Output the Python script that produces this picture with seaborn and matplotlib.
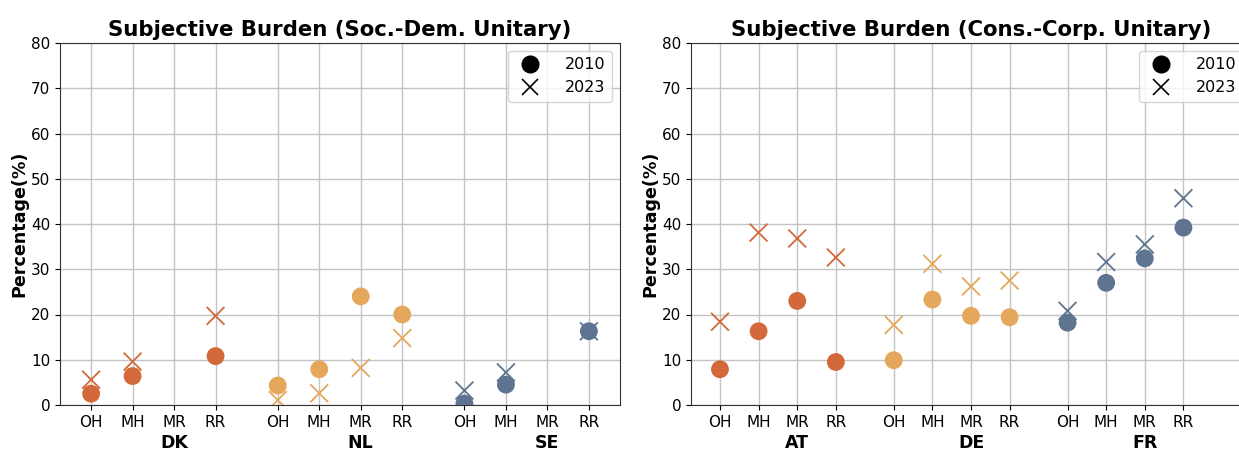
import numpy as np
import pandas as pd
import matplotlib
matplotlib.use("Agg")
import matplotlib.pyplot as plt
from matplotlib.lines import Line2D
import seaborn as sns

categories = ["OH", "MH", "MR", "RR"]

left_title = "Subjective Burden (Soc.-Dem. Unitary)"
left_countries = ["DK", "NL", "SE"]
left_2010 = [[2.5, 6.4, np.nan, 10.8],
             [4.3, 7.9, 24.0, 20.0],
             [0.3, 4.5, np.nan, 16.3]]
left_2023 = [[5.6, 9.6, np.nan, 19.7],
             [1.1, 2.6, 8.2, 14.8],
             [3.2, 7.2, np.nan, 16.3]]

right_title = "Subjective Burden (Cons.-Corp. Unitary)"
right_countries = ["AT", "DE", "FR"]
right_2010 = [[7.9, 16.3, 23.0, 9.5],
              [9.9, 23.3, 19.7, 19.4],
              [18.2, 27.0, 32.4, 39.2]]
right_2023 = [[18.4, 38.1, 36.8, 32.6],
              [17.7, 31.2, 26.2, 27.5],
              [20.8, 31.6, 35.5, 45.7]]

group_colors = ["#D3693A", "#E5A75B", "#5E7490"]
years = ["2010", "2023"]

sns.set_style("ticks")
plt.rcParams["font.family"] = ["DejaVu Sans"]
plt.rcParams["text.color"] = "black"
plt.rcParams["axes.labelcolor"] = "black"
plt.rcParams["xtick.color"] = "black"
plt.rcParams["ytick.color"] = "black"

GROUP_GAP = 4.5


def build_df(countries, v2010, v2023):
    rows = []
    for gi, c in enumerate(countries):
        for ci, cat in enumerate(categories):
            for yr, vals in zip(years, [v2010, v2023]):
                rows.append(dict(country=c, cat=cat, year=yr,
                                 pos=gi * GROUP_GAP + ci, value=vals[gi][ci]))
    return pd.DataFrame(rows)


fig = plt.figure(figsize=(12.39, 4.5), dpi=100)
W, H = 1239, 450
ax_l = fig.add_axes([60 / W, 45 / H, 560 / W, 362 / H])
ax_r = fig.add_axes([691 / W, 45 / H, 560 / W, 362 / H])

panels = [
    (ax_l, left_title, left_countries, left_2010, left_2023, (-0.75, 12.75)),
    (ax_r, right_title, right_countries, right_2010, right_2023, (-0.75, 13.75)),
]

for ax, title, countries, v10, v23, xlim in panels:
    df = build_df(countries, v10, v23)
    palette = dict(zip(countries, group_colors))
    ax.set_axisbelow(True)
    ax.grid(True, color="#c4c4c4", linewidth=1.0)
    sns.scatterplot(data=df[df.year == "2023"].dropna(), x="pos", y="value",
                    hue="country", palette=palette, marker="x", s=165,
                    linewidth=1.3, legend=False, ax=ax, zorder=3)
    sns.scatterplot(data=df[df.year == "2010"].dropna(), x="pos", y="value",
                    hue="country", palette=palette, marker="o", s=165,
                    edgecolor="none", legend=False, ax=ax, zorder=4)
    positions = [gi * GROUP_GAP + ci for gi in range(len(countries))
                 for ci in range(len(categories))]
    ax.set_xticks(positions)
    ax.set_xticklabels(categories * len(countries), fontsize=11)
    ax.set_xlim(*xlim)
    ax.set_ylim(0, 80)
    ax.set_yticks(range(0, 81, 10))
    ax.tick_params(axis="y", labelsize=11)
    ax.set_xlabel("")
    ax.set_ylabel("Percentage(%)", fontsize=12.6, fontweight="bold", labelpad=2)
    ax.set_title(title, fontsize=15.3, fontweight="bold", pad=5)
    for gi, c in enumerate(countries):
        ax.text(gi * GROUP_GAP + 2, -0.105, c, transform=ax.get_xaxis_transform(),
                ha="center", va="center", fontsize=12.5, fontweight="bold")
    for s in ax.spines.values():
        s.set_color("#333333")
    handles = [Line2D([], [], marker="o", color="black", linestyle="none", markersize=12),
               Line2D([], [], marker="x", color="black", linestyle="none", markersize=12,
                      markeredgewidth=1.2)]
    ax.legend(handles, years, loc="upper right", fontsize=11.5, handletextpad=1.2)

fig.savefig("out.png", dpi=100)
